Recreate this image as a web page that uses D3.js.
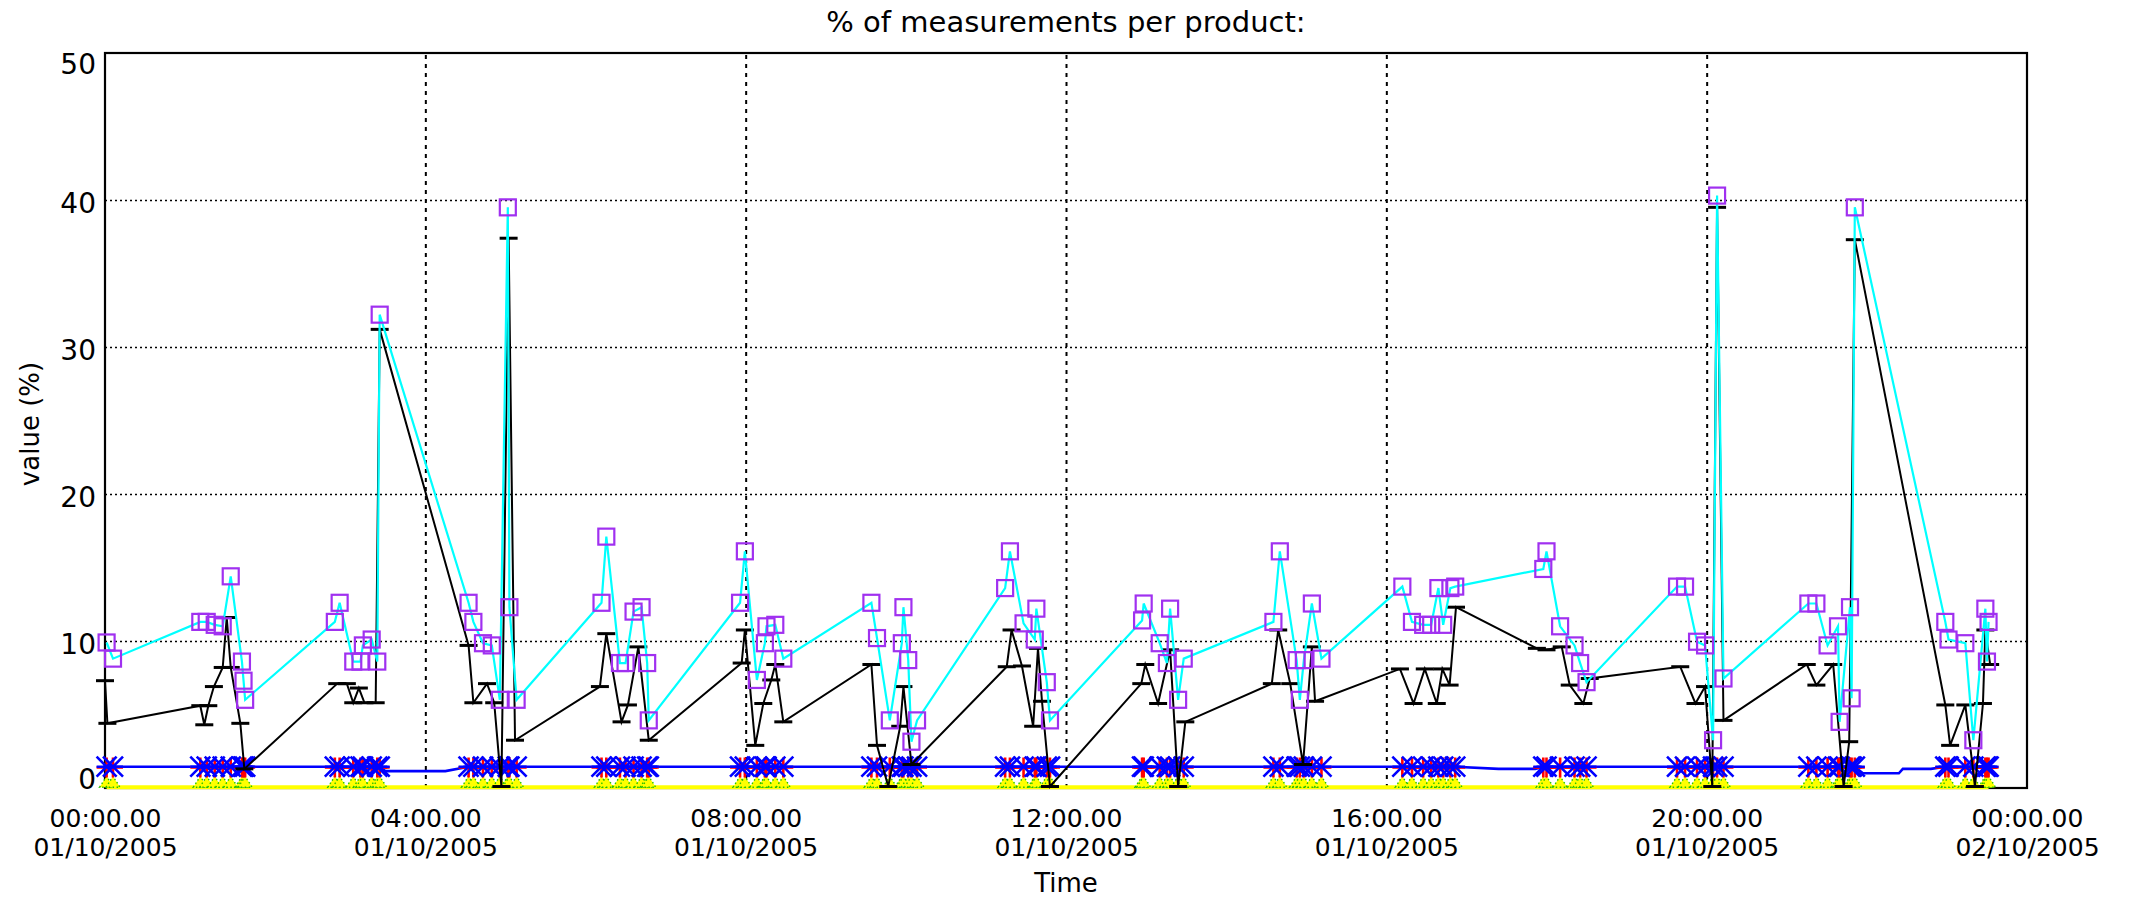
<!DOCTYPE html>
<html><head><meta charset="utf-8">
<script src="https://cdn.jsdelivr.net/npm/d3@7"></script>
<style>html,body{margin:0;padding:0;background:#fff;} svg{display:block;} text{font-family:"DejaVu Sans",sans-serif;fill:#000;}</style>
</head><body><svg id="c" width="2129" height="910"></svg>
<script>
// ---------- DATA ----------
const titleText = "% of measurements per product:";
const xTitle = "Time";
const yTitle = "value (%)";
const xTicks = [0, 4, 8, 12, 16, 20, 24];
const xTimeLabels = ["00:00.00","04:00.00","08:00.00","12:00.00","16:00.00","20:00.00","00:00.00"];
const xDateLabels = ["01/10/2005","01/10/2005","01/10/2005","01/10/2005","01/10/2005","01/10/2005","02/10/2005"];
const yTicks = [0, 10, 20, 30, 40, 50];
const gridY = [10, 20, 30, 40];
const gridX = [4, 8, 12, 16, 20];

// cyan series (purple square markers), hours since 00:00
const cyanTimes = [
 0.02,0.10,
 1.19,1.27,1.37,1.47,1.57,1.71,1.73,1.75,
 2.87,2.93,3.10,3.19,3.22,3.33,3.40,3.43,
 4.54,4.60,4.72,4.83,4.93,5.03,5.05,5.14,
 6.20,6.26,6.43,6.50,6.60,6.70,6.77,6.79,
 7.93,7.99,8.14,8.24,8.26,8.37,8.47,
 9.57,9.64,9.80,9.95,9.97,10.03,10.07,10.14,
 11.24,11.30,11.47,11.61,11.63,11.76,11.80,
 12.95,12.97,13.17,13.26,13.30,13.40,13.47,
 14.59,14.67,14.88,14.92,14.97,15.07,15.19,
 16.20,16.32,16.46,16.56,16.65,16.71,16.80,16.86,
 17.96,18.00,18.17,18.35,18.42,18.50,
 19.63,19.73,19.88,19.98,20.08,20.13,20.21,
 21.27,21.37,21.51,21.64,21.66,21.79,21.81,21.85,
 22.98,23.02,23.23,23.33,23.48,23.50,23.52];
const cyanValues = [
 9.9,8.8,
 11.3,11.3,11.1,11.0,14.4,8.6,7.3,6.0,
 11.3,12.6,8.6,8.6,9.7,10.1,8.6,32.2,
 12.6,11.3,9.85,9.7,6.0,39.5,12.3,6.0,
 12.6,17.1,8.5,8.5,12.0,12.3,8.5,4.6,
 12.6,16.1,7.35,9.85,11.0,11.1,8.8,
 12.6,10.2,4.6,9.85,12.3,8.7,3.15,4.6,
 13.6,16.1,11.2,10.1,12.2,7.2,4.6,
 11.4,12.55,9.85,8.5,12.2,6.0,8.8,
 11.3,16.1,8.7,6.0,8.7,12.55,8.8,
 13.7,11.3,11.1,11.1,13.6,11.1,13.6,13.7,
 14.9,16.1,11.0,9.7,8.5,7.2,
 13.7,13.7,9.95,9.7,3.25,40.3,7.45,
 12.55,12.55,9.7,11.0,4.5,12.3,6.1,39.5,
 11.3,10.1,9.85,3.25,12.2,8.6,11.3];

// black series (horizontal dash markers)
const blackTimes = [
 0.00,0.03,
 1.19,1.24,1.29,1.36,1.47,1.52,1.57,1.69,1.74,
 2.90,3.02,3.10,3.17,3.24,3.38,3.43,
 4.54,4.60,4.77,4.86,4.95,5.04,5.12,
 6.18,6.26,6.45,6.53,6.66,6.79,
 7.95,7.99,8.12,8.22,8.32,8.37,8.47,
 9.57,9.64,9.78,9.93,9.97,10.07,
 11.26,11.32,11.45,11.59,11.65,11.70,11.80,
 12.94,12.99,13.15,13.30,13.40,13.49,
 14.57,14.65,14.80,14.96,15.07,15.11,
 16.17,16.34,16.48,16.63,16.70,16.79,16.87,
 17.88,18.00,18.19,18.29,18.46,18.54,
 19.67,19.86,19.98,20.07,20.13,20.21,
 21.25,21.37,21.58,21.71,21.78,21.85,
 22.98,23.04,23.23,23.35,23.45,23.48,23.54];
const blackValues = [
 7.3,4.4,
 5.6,4.3,5.6,6.9,8.2,11.6,8.2,4.4,1.3,
 7.1,7.1,5.8,6.8,5.8,5.8,31.2,
 9.7,5.8,7.1,5.8,0.1,37.4,3.25,
 6.9,10.5,4.5,5.65,9.6,3.25,
 8.5,10.75,2.9,5.75,7.35,8.4,4.5,
 8.4,2.9,0.1,4.2,6.9,1.6,
 8.25,10.75,8.3,4.2,9.5,5.9,0.1,
 7.1,8.4,5.75,9.4,0.1,4.5,
 7.1,10.75,7.1,1.6,9.6,5.9,
 8.1,5.75,8.1,5.75,8.1,7.0,12.3,
 9.5,9.4,9.6,7.0,5.75,7.45,
 8.25,5.75,6.9,0.1,39.5,4.6,
 8.4,7.0,8.4,0.1,3.15,37.3,
 5.65,2.9,5.65,0.1,5.75,10.75,8.4];

// low series, measured at the same times as the cyan series
const markerTimes = cyanTimes;
const blueValues = [
 1.45,1.45,
 1.45,1.45,1.45,1.45,1.45,1.45,1.45,1.45,
 1.45,1.45,1.45,1.45,1.45,1.45,1.45,1.45,
 1.45,1.45,1.45,1.45,1.45,1.45,1.45,1.45,
 1.45,1.45,1.45,1.45,1.45,1.45,1.45,1.45,
 1.45,1.45,1.45,1.45,1.45,1.45,1.45,
 1.45,1.45,1.45,1.45,1.45,1.45,1.45,1.45,
 1.45,1.45,1.45,1.45,1.45,1.45,1.45,
 1.45,1.45,1.45,1.45,1.45,1.45,1.45,
 1.45,1.45,1.45,1.45,1.45,1.45,1.45,
 1.45,1.45,1.45,1.45,1.45,1.45,1.45,1.45,
 1.45,1.45,1.45,1.45,1.45,1.45,
 1.45,1.45,1.45,1.45,1.45,1.45,1.45,
 1.45,1.45,1.45,1.45,1.45,1.45,1.45,1.45,
 1.45,1.45,1.45,1.45,1.45,1.45,1.45];
// blue line samples between clusters (slight dips)
const blueGapTimes = [3.50, 4.25, 17.40, 17.86, 21.95, 22.40, 22.45, 22.80];
const blueGapValues = [1.15, 1.15, 1.30, 1.30, 1.00, 1.00, 1.30, 1.30];
const redValues = [
 1.4,1.4,
 1.4,1.4,1.4,1.4,1.4,1.4,1.4,1.4,
 1.4,1.4,1.4,1.4,1.4,1.4,1.4,1.4,
 1.4,1.4,1.4,1.4,1.4,1.4,1.4,1.4,
 1.4,1.4,1.4,1.4,1.4,1.4,1.4,1.4,
 1.4,1.4,1.4,1.4,1.4,1.4,1.4,
 1.4,1.4,1.4,1.4,1.4,1.4,1.4,1.4,
 1.4,1.4,1.4,1.4,1.4,1.4,1.4,
 1.4,1.4,1.4,1.4,1.4,1.4,1.4,
 1.4,1.4,1.4,1.4,1.4,1.4,1.4,
 1.4,1.4,1.4,1.4,1.4,1.4,1.4,1.4,
 1.4,1.4,1.4,1.4,1.4,1.4,
 1.4,1.4,1.4,1.4,1.4,1.4,1.4,
 1.4,1.4,1.4,1.4,1.4,1.4,1.4,1.4,
 1.4,1.4,1.4,1.4,1.4,1.4,1.4];
const yellowValues = [
 0.05,0.05,
 0.05,0.05,0.05,0.05,0.05,0.05,0.05,0.05,
 0.05,0.05,0.05,0.05,0.05,0.05,0.05,0.05,
 0.05,0.05,0.05,0.05,0.05,0.05,0.05,0.05,
 0.05,0.05,0.05,0.05,0.05,0.05,0.05,0.05,
 0.05,0.05,0.05,0.05,0.05,0.05,0.05,
 0.05,0.05,0.05,0.05,0.05,0.05,0.05,0.05,
 0.05,0.05,0.05,0.05,0.05,0.05,0.05,
 0.05,0.05,0.05,0.05,0.05,0.05,0.05,
 0.05,0.05,0.05,0.05,0.05,0.05,0.05,
 0.05,0.05,0.05,0.05,0.05,0.05,0.05,0.05,
 0.05,0.05,0.05,0.05,0.05,0.05,
 0.05,0.05,0.05,0.05,0.05,0.05,0.05,
 0.05,0.05,0.05,0.05,0.05,0.05,0.05,0.05,
 0.05,0.05,0.05,0.05,0.05,0.05,0.05];

// ---------- CHART ----------
const W = 2129, H = 910;
const m = {l:105, r:2027, t:53, b:788};
const x = d3.scaleLinear().domain([0,24]).range([m.l, m.r]);
const y = d3.scaleLinear().domain([0,50]).range([m.b, m.t]);
const svg = d3.select('#c');
svg.append('rect').attr('width',W).attr('height',H).attr('fill','#fff');

// grid
const gy = svg.append('g').attr('transform',`translate(${m.l},0)`)
  .call(d3.axisLeft(y).tickValues(gridY).tickSize(-(m.r-m.l)).tickFormat(''));
gy.select('.domain').remove();
gy.selectAll('line').attr('stroke','#000').attr('stroke-width',1.6).attr('stroke-dasharray','2,3');
const gx = svg.append('g').attr('transform',`translate(0,${m.b})`)
  .call(d3.axisBottom(x).tickValues(gridX).tickSize(-(m.b-m.t)).tickFormat(''));
gx.select('.domain').remove();
gx.selectAll('line').attr('stroke','#000').attr('stroke-width',2).attr('stroke-dasharray','4,5');

// frame
svg.append('rect').attr('x',m.l).attr('y',m.t).attr('width',m.r-m.l).attr('height',m.b-m.t)
  .attr('fill','none').attr('stroke','#000').attr('stroke-width',2.2);

// y axis labels
const ya = svg.append('g').attr('transform',`translate(${m.l},0)`)
  .call(d3.axisLeft(y).tickValues(yTicks).tickSize(0).tickPadding(9).tickFormat(d3.format('d')));
ya.select('.domain').remove();
ya.selectAll('text').attr('font-size',28).attr('font-family','"DejaVu Sans",sans-serif')
  .attr('dy', d => d===50 ? '0.72em' : (d===0 ? '0.02em' : '0.45em'));

// x axis labels (two lines, separate text elements)
const xa = svg.append('g').attr('transform',`translate(0,${m.b})`)
  .call(d3.axisBottom(x).tickValues(xTicks).tickSize(0).tickFormat(''));
xa.select('.domain').remove();
xa.selectAll('.tick text').remove();
xa.selectAll('.tick').each(function(d,i){
  const g = d3.select(this);
  g.append('text').attr('x',0).attr('y',39).attr('text-anchor','middle')
    .attr('font-size',25).attr('fill','#000').text(xTimeLabels[i]);
  g.append('text').attr('x',0).attr('y',68).attr('text-anchor','middle')
    .attr('font-size',25).attr('fill','#000').text(xDateLabels[i]);
});

// titles
svg.append('text').attr('x',(m.l+m.r)/2).attr('y',32).attr('text-anchor','middle')
  .attr('font-size',29).text(titleText);
svg.append('text').attr('x',(m.l+m.r)/2).attr('y',892).attr('text-anchor','middle')
  .attr('font-size',26).text(xTitle);
svg.append('text').attr('transform','translate(39,424) rotate(-90)').attr('text-anchor','middle')
  .attr('font-size',26).text(yTitle);

const line = d3.line().x(d=>x(d[0])).y(d=>y(d[1]));
const plot = svg.append('g');

// yellow / green series at zero
const yel = markerTimes.map((t,i)=>[t, yellowValues[i]]);
plot.append('path').datum(yel).attr('d',line).attr('fill','none')
  .attr('stroke','#ffff00').attr('stroke-width',4);
plot.append('g').selectAll('path').data(yel).join('path')
  .attr('d',d=>{const cx=x(d[0]), cy=y(d[1]); return `M${cx-7},${cy} L${cx},${cy-11} L${cx+7},${cy} Z`;})
  .attr('fill','#ffff00').attr('stroke','#22c000').attr('stroke-width',1.4).attr('stroke-dasharray','1.5,2.5');

// blue line + red and blue markers
const blu = markerTimes.map((t,i)=>[t, blueValues[i]]);
const bluLine = blu.concat(blueGapTimes.map((t,i)=>[t, blueGapValues[i]])).sort((a,b)=>a[0]-b[0]);
plot.append('path').datum(bluLine).attr('d',line).attr('fill','none')
  .attr('stroke','#0000ff').attr('stroke-width',2.6);
const red = markerTimes.map((t,i)=>[t, redValues[i]]);
plot.append('g').selectAll('path').data(red).join('path')
  .attr('d',d=>{const cx=x(d[0]), cy=y(d[1]); return `M${cx},${cy-10} V${cy+10} M${cx-10},${cy} H${cx+10}`;})
  .attr('stroke','#ff0000').attr('stroke-width',2.6).attr('fill','none');
plot.append('g').selectAll('path').data(blu).join('path')
  .attr('d',d=>{const cx=x(d[0]), cy=y(d[1]); const s=10;
    return `M${cx-s},${cy-s} L${cx+s},${cy+s} M${cx-s},${cy+s} L${cx+s},${cy-s} M${cx-s},${cy} H${cx+s}`;})
  .attr('stroke','#0000ff').attr('stroke-width',2.6).attr('fill','none');

// black series
const blk = blackTimes.map((t,i)=>[t, blackValues[i]]);
plot.append('path').datum(blk).attr('d',line).attr('fill','none')
  .attr('stroke','#000').attr('stroke-width',2);
plot.append('g').selectAll('line').data(blk).join('line')
  .attr('x1',d=>x(d[0])-9).attr('x2',d=>x(d[0])+9)
  .attr('y1',d=>y(d[1])).attr('y2',d=>y(d[1]))
  .attr('stroke','#000').attr('stroke-width',3);

// cyan series with purple squares
const cy = cyanTimes.map((t,i)=>[t, cyanValues[i]]);
plot.append('path').datum(cy).attr('d',line).attr('fill','none')
  .attr('stroke','#00ffff').attr('stroke-width',2.2);
plot.append('g').selectAll('rect').data(cy).join('rect')
  .attr('x',d=>x(d[0])-8).attr('y',d=>y(d[1])-8).attr('width',16).attr('height',16)
  .attr('fill','none').attr('stroke','#a030f0').attr('stroke-width',2.2);
</script></body></html>
